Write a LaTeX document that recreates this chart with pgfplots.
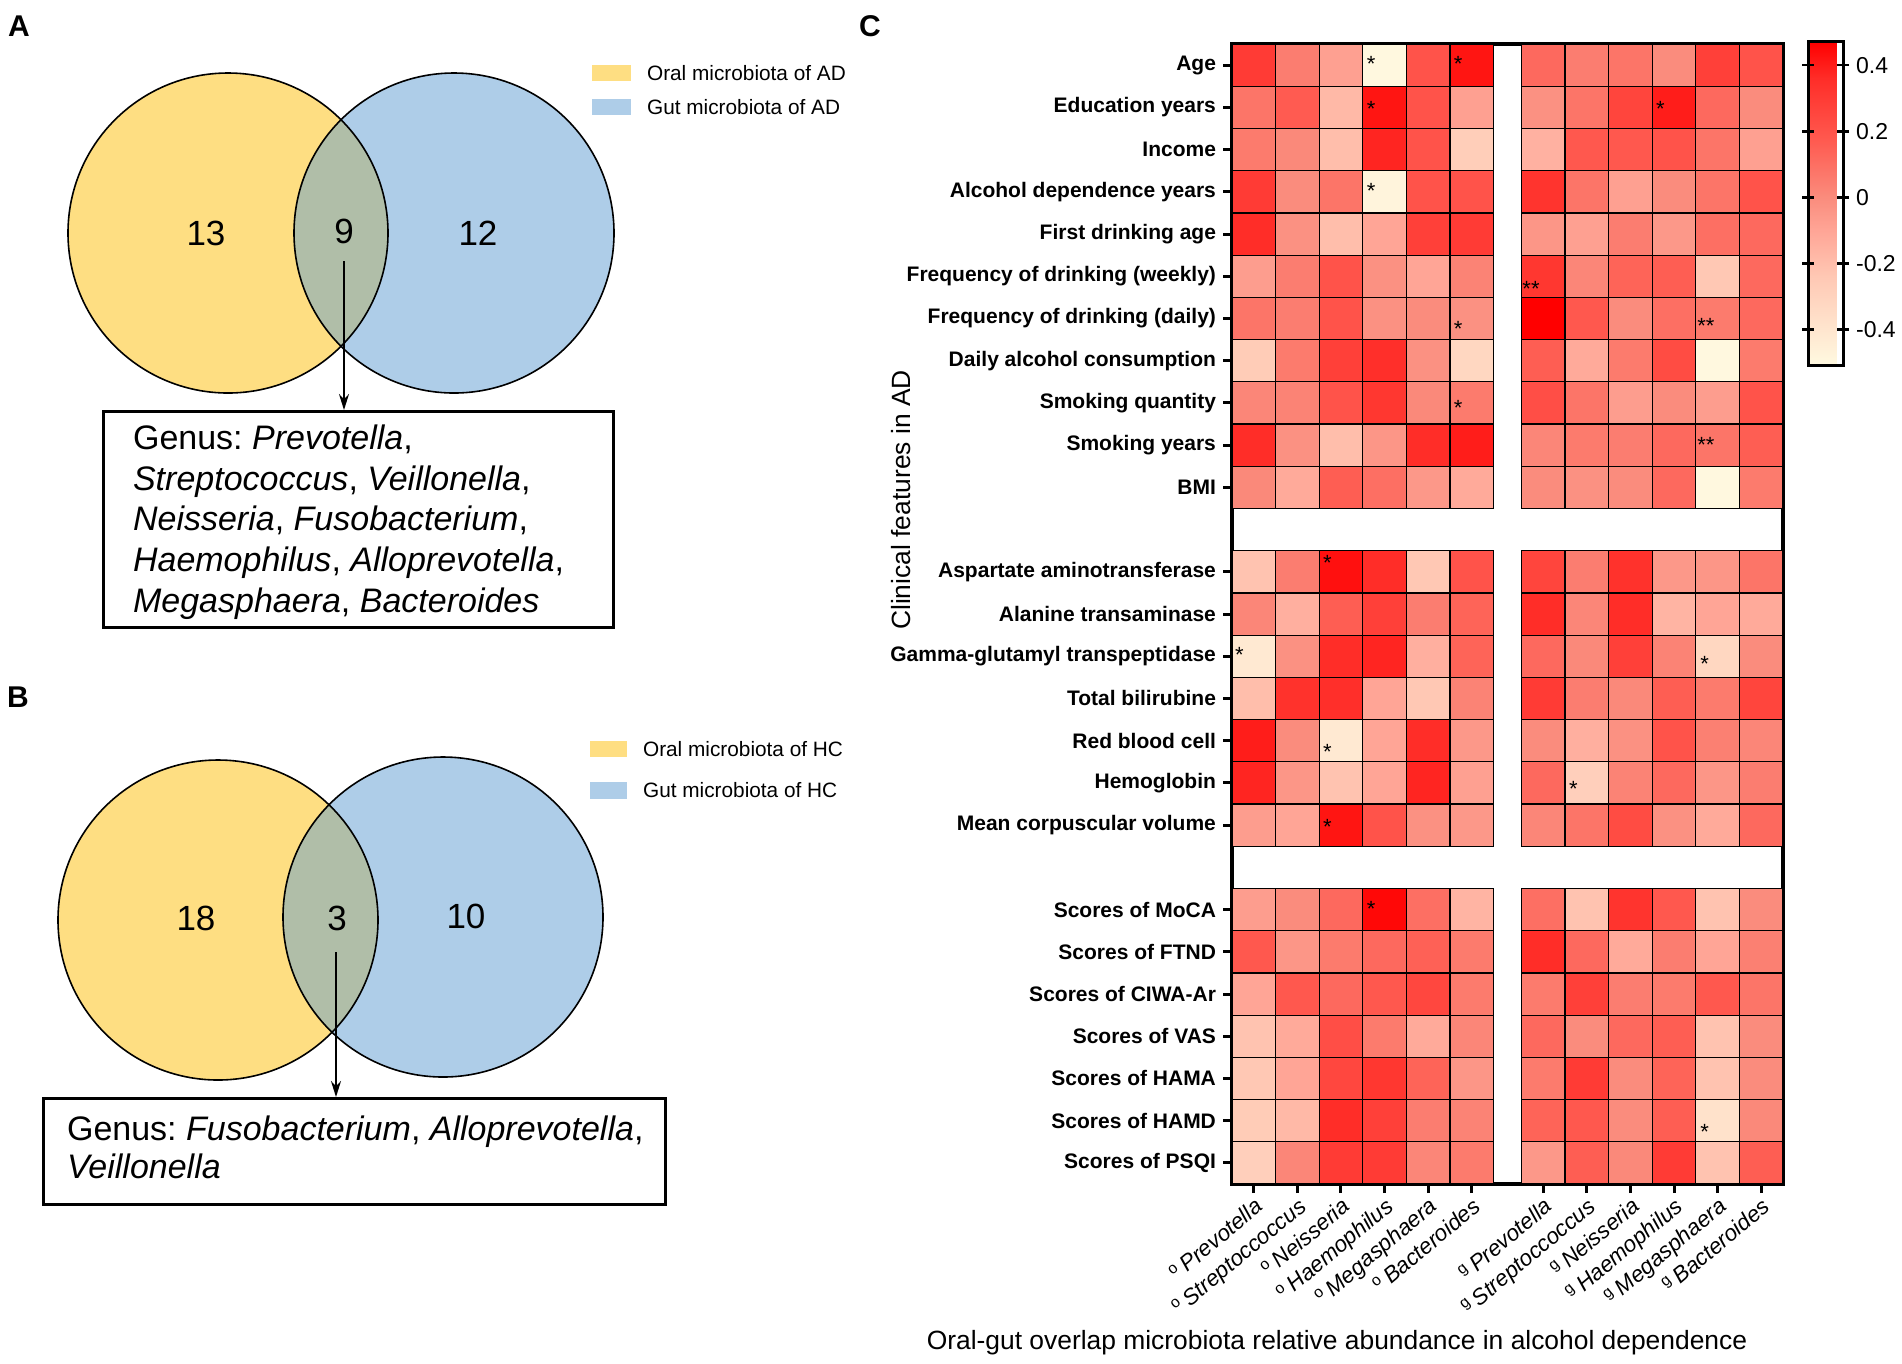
\documentclass[border=0pt]{standalone}
\usepackage{pgfplots}
\pgfplotsset{compat=1.18}
\usepackage{fontspec}
\setmainfont{Liberation Sans}
\usetikzlibrary{arrows.meta}
\frenchspacing

\definecolor{vyellow}{RGB}{254,222,130}
\definecolor{vblue}{RGB}{174,205,232}
\definecolor{vover}{RGB}{176,190,168}
\newcommand{\so}{\textsuperscript{\upshape o}\,}
\newcommand{\sg}{\textsuperscript{\upshape g}\,}

\begin{document}
\begin{tikzpicture}[x=0.5pt,y=-0.5pt]
\path[use as bounding box] (0,0) rectangle (1902,1364);

% ---------------- Venn diagrams (A and B) and free text ----------------
\begin{axis}[at={(0pt,0pt)}, anchor=north west, x=0.5pt, y=0.5pt, y dir=reverse,
  xmin=0, xmax=860, ymin=0, ymax=1364, hide axis, clip=false]
  % A
  \fill[vyellow] (axis cs:228,233) circle[radius=80pt];
  \fill[vblue] (axis cs:454,233) circle[radius=80pt];
  \begin{scope}
    \clip (axis cs:228,233) circle[radius=80pt];
    \fill[vover] (axis cs:454,233) circle[radius=80pt];
  \end{scope}
  \draw[line width=0.8pt] (axis cs:228,233) circle[radius=80pt];
  \draw[line width=0.8pt] (axis cs:454,233) circle[radius=80pt];
  \node[font=\fontsize{17.5}{20}\selectfont] at (axis cs:206,233) {13};
  \node[font=\fontsize{17.5}{20}\selectfont] at (axis cs:344,231) {9};
  \node[font=\fontsize{17.5}{20}\selectfont] at (axis cs:478,233) {12};
  \draw[line width=1pt,-{Stealth[length=8pt,width=5pt]}] (axis cs:344,261) -- (axis cs:344,410);
  \draw[line width=1.5pt] (axis cs:103,411) rectangle (axis cs:613,627);
  \node[anchor=base west,font=\fontsize{17}{20}\selectfont] at (axis cs:126,449) {Genus: \textit{Prevotella},};
  \node[anchor=base west,font=\fontsize{17}{20}\selectfont] at (axis cs:126,490) {\textit{Streptococcus}, \textit{Veillonella},};
  \node[anchor=base west,font=\fontsize{17}{20}\selectfont] at (axis cs:126,530) {\textit{Neisseria}, \textit{Fusobacterium},};
  \node[anchor=base west,font=\fontsize{17}{20}\selectfont] at (axis cs:126,571) {\textit{Haemophilus}, \textit{Alloprevotella},};
  \node[anchor=base west,font=\fontsize{17}{20}\selectfont] at (axis cs:126,612) {\textit{Megasphaera}, \textit{Bacteroides}};
  \fill[vyellow] (axis cs:592,65) rectangle (axis cs:631,81);
  \fill[vblue] (axis cs:592,99) rectangle (axis cs:631,115);
  \node[anchor=west,font=\fontsize{10.4}{12}\selectfont] at (axis cs:640,73) {Oral microbiota of AD};
  \node[anchor=west,font=\fontsize{10.4}{12}\selectfont] at (axis cs:640,107) {Gut microbiota of AD};
  % B
  \fill[vyellow] (axis cs:218,920) circle[radius=80pt];
  \fill[vblue] (axis cs:443,917) circle[radius=80pt];
  \begin{scope}
    \clip (axis cs:218,920) circle[radius=80pt];
    \fill[vover] (axis cs:443,917) circle[radius=80pt];
  \end{scope}
  \draw[line width=0.8pt] (axis cs:218,920) circle[radius=80pt];
  \draw[line width=0.8pt] (axis cs:443,917) circle[radius=80pt];
  \node[font=\fontsize{17.5}{20}\selectfont] at (axis cs:196,918) {18};
  \node[font=\fontsize{17.5}{20}\selectfont] at (axis cs:337,918) {3};
  \node[font=\fontsize{17.5}{20}\selectfont] at (axis cs:466,916) {10};
  \draw[line width=1pt,-{Stealth[length=8pt,width=5pt]}] (axis cs:336,952) -- (axis cs:336,1097);
  \draw[line width=1.5pt] (axis cs:43,1098) rectangle (axis cs:665,1204);
  \node[anchor=base west,font=\fontsize{17}{20}\selectfont] at (axis cs:60,1140) {Genus: \textit{Fusobacterium}, \textit{Alloprevotella},};
  \node[anchor=base west,font=\fontsize{17}{20}\selectfont] at (axis cs:60,1178) {\textit{Veillonella}};
  \fill[vyellow] (axis cs:590,741) rectangle (axis cs:627,757);
  \fill[vblue] (axis cs:590,782) rectangle (axis cs:627,799);
  \node[anchor=west,font=\fontsize{10.4}{12}\selectfont] at (axis cs:636,749) {Oral microbiota of HC};
  \node[anchor=west,font=\fontsize{10.4}{12}\selectfont] at (axis cs:636,790) {Gut microbiota of HC};
  % panel letters and heatmap titles
  \node[font=\bfseries\fontsize{15}{17}\selectfont] at (axis cs:19,26) {A};
  \node[font=\bfseries\fontsize{15}{17}\selectfont] at (axis cs:18,697) {B};
  \node[font=\bfseries\fontsize{15}{17}\selectfont] at (axis cs:870,26) {C};
  \node[rotate=90,font=\fontsize{13.2}{15}\selectfont] at (axis cs:901,500) {Clinical features in AD};
  \node[font=\fontsize{13.2}{15}\selectfont] at (axis cs:1337,1343) {Oral-gut overlap microbiota relative abundance in alcohol dependence};
\end{axis}

% ---------------- Heatmap (C) ----------------
\begin{axis}[at={(616pt,-22pt)}, anchor=north west,
  scale only axis, width=275.5pt, height=570pt,
  xmin=-0.5, xmax=12.14, ymin=-0.5, ymax=26.5, y dir=reverse,
  axis on top, clip=false,
  axis line style={line width=1.7pt},
  tick align=outside, xtick pos=bottom, ytick pos=left,
  major tick length=4.5pt,
  tick style={line width=1.5pt, black},
  xtick={0,1,2,3,4,5,6.64,7.64,8.64,9.64,10.64,11.64},
  xticklabels={\so Prevotella,\so Streptoccoccus,\so Neisseria,\so Haemophilus,\so Megasphaera,\so Bacteroides,
    \sg Prevotella,\sg Streptoccoccus,\sg Neisseria,\sg Haemophilus,\sg Megasphaera,\sg Bacteroides},
  xticklabel style={font=\itshape\fontsize{11.2}{12}\selectfont, rotate=40, anchor=north east, inner sep=1pt},
  ytick={0,1,2,3,4,5,6,7,8,9,10,12,13,14,15,16,17,18,20,21,22,23,24,25,26},
  yticklabels={Age,Education years,Income,Alcohol dependence years,First drinking age,
    Frequency of drinking (weekly),Frequency of drinking (daily),Daily alcohol consumption,
    Smoking quantity,Smoking years,BMI,Aspartate aminotransferase,Alanine transaminase,
    Gamma-glutamyl transpeptidase,Total bilirubine,Red blood cell,Hemoglobin,
    Mean corpuscular volume,Scores of MoCA,Scores of FTND,Scores of CIWA-Ar,
    Scores of VAS,Scores of HAMA,Scores of HAMD,Scores of PSQI},
  yticklabel style={font=\bfseries\fontsize{10.5}{12}\selectfont},
  colormap={hm}{rgb255(0pt)=(255,250,225); rgb255(276pt)=(255,200,180); rgb255(418pt)=(255,165,150);
    rgb255(520pt)=(250,140,125); rgb255(704pt)=(255,88,78); rgb255(888pt)=(255,45,40); rgb255(1000pt)=(255,0,0)},
  point meta min=-0.51, point meta max=0.47,
  colorbar,
  colorbar style={at={(parent axis.north east)}, anchor=north west, xshift=4pt, yshift=1pt,
    scale only axis, width=17.5pt, height=162pt,
    ytick={-0.4,-0.2,0,0.2,0.4}, yticklabels={-0.4,-0.2,0,0.2,0.4},
    yticklabel style={font=\fontsize{11.5}{13}\selectfont},
    axis line style={line width=1.5pt}, tick align=center, major tick length=6pt,
    tick style={line width=1.3pt, black}},
]
\addplot[scatter, only marks, mark=square*, mark size=10.898pt, point meta=explicit,
  scatter/use mapped color={draw=black, fill=mapped color},
  mark options={yscale=0.96858, line width=0.6pt}] coordinates {
(0,0)[0.30] (1,0)[0.05] (2,0)[-0.08] (3,0)[-0.50] (4,0)[0.20] (5,0)[0.42]
(6.64,0)[0.12] (7.64,0)[0.05] (8.64,0)[0.08] (9.64,0)[0.00] (10.64,0)[0.28] (11.64,0)[0.20]
(0,1)[0.08] (1,1)[0.17] (2,1)[-0.18] (3,1)[0.42] (4,1)[0.20] (5,1)[-0.08]
(6.64,1)[-0.02] (7.64,1)[0.08] (8.64,1)[0.26] (9.64,1)[0.40] (10.64,1)[0.12] (11.64,1)[0.00]
(0,2)[0.06] (1,2)[0.01] (2,2)[-0.20] (3,2)[0.38] (4,2)[0.20] (5,2)[-0.27]
(6.64,2)[-0.15] (7.64,2)[0.18] (8.64,2)[0.18] (9.64,2)[0.20] (10.64,2)[0.08] (11.64,2)[-0.08]
(0,3)[0.30] (1,3)[0.00] (2,3)[0.08] (3,3)[-0.48] (4,3)[0.20] (5,3)[0.20]
(6.64,3)[0.33] (7.64,3)[0.08] (8.64,3)[-0.08] (9.64,3)[0.00] (10.64,3)[0.08] (11.64,3)[0.20]
(0,4)[0.36] (1,4)[-0.02] (2,4)[-0.20] (3,4)[-0.10] (4,4)[0.28] (5,4)[0.30]
(6.64,4)[-0.04] (7.64,4)[-0.08] (8.64,4)[0.05] (9.64,4)[-0.05] (10.64,4)[0.10] (11.64,4)[0.12]
(0,5)[-0.07] (1,5)[0.05] (2,5)[0.20] (3,5)[-0.02] (4,5)[-0.10] (5,5)[0.03]
(6.64,5)[0.32] (7.64,5)[0.02] (8.64,5)[0.14] (9.64,5)[0.16] (10.64,5)[-0.24] (11.64,5)[0.12]
(0,6)[0.08] (1,6)[0.05] (2,6)[0.20] (3,6)[-0.02] (4,6)[0.00] (5,6)[-0.02]
(6.64,6)[0.47] (7.64,6)[0.18] (8.64,6)[0.00] (9.64,6)[0.10] (10.64,6)[0.06] (11.64,6)[0.12]
(0,7)[-0.26] (1,7)[0.06] (2,7)[0.28] (3,7)[0.35] (4,7)[-0.02] (5,7)[-0.32]
(6.64,7)[0.16] (7.64,7)[-0.12] (8.64,7)[0.06] (9.64,7)[0.23] (10.64,7)[-0.50] (11.64,7)[0.06]
(0,8)[0.02] (1,8)[0.03] (2,8)[0.20] (3,8)[0.32] (4,8)[0.01] (5,8)[0.06]
(6.64,8)[0.22] (7.64,8)[0.08] (8.64,8)[-0.07] (9.64,8)[0.00] (10.64,8)[-0.07] (11.64,8)[0.20]
(0,9)[0.36] (1,9)[-0.02] (2,9)[-0.20] (3,9)[-0.04] (4,9)[0.36] (5,9)[0.40]
(6.64,9)[0.02] (7.64,9)[0.06] (8.64,9)[0.05] (9.64,9)[0.12] (10.64,9)[0.08] (11.64,9)[0.16]
(0,10)[0.01] (1,10)[-0.12] (2,10)[0.16] (3,10)[0.10] (4,10)[-0.05] (5,10)[-0.12]
(6.64,10)[0.00] (7.64,10)[-0.02] (8.64,10)[0.00] (9.64,10)[0.12] (10.64,10)[-0.50] (11.64,10)[0.06]
(0,12)[-0.22] (1,12)[0.05] (2,12)[0.43] (3,12)[0.36] (4,12)[-0.24] (5,12)[0.20]
(6.64,12)[0.26] (7.64,12)[0.05] (8.64,12)[0.34] (9.64,12)[-0.05] (10.64,12)[-0.04] (11.64,12)[0.08]
(0,13)[0.02] (1,13)[-0.14] (2,13)[0.16] (3,13)[0.28] (4,13)[0.05] (5,13)[0.14]
(6.64,13)[0.36] (7.64,13)[0.02] (8.64,13)[0.36] (9.64,13)[-0.16] (10.64,13)[-0.10] (11.64,13)[-0.12]
(0,14)[-0.42] (1,14)[-0.02] (2,14)[0.36] (3,14)[0.38] (4,14)[-0.14] (5,14)[0.14]
(6.64,14)[0.12] (7.64,14)[0.01] (8.64,14)[0.28] (9.64,14)[0.03] (10.64,14)[-0.32] (11.64,14)[0.00]
(0,15)[-0.20] (1,15)[0.34] (2,15)[0.35] (3,15)[-0.10] (4,15)[-0.24] (5,15)[0.03]
(6.64,15)[0.30] (7.64,15)[0.05] (8.64,15)[0.01] (9.64,15)[0.16] (10.64,15)[0.06] (11.64,15)[0.26]
(0,16)[0.40] (1,16)[0.00] (2,16)[-0.42] (3,16)[-0.10] (4,16)[0.36] (5,16)[-0.05]
(6.64,16)[0.00] (7.64,16)[-0.14] (8.64,16)[-0.02] (9.64,16)[0.20] (10.64,16)[0.04] (11.64,16)[0.02]
(0,17)[0.38] (1,17)[-0.04] (2,17)[-0.22] (3,17)[-0.10] (4,17)[0.38] (5,17)[-0.08]
(6.64,17)[0.12] (7.64,17)[-0.28] (8.64,17)[0.03] (9.64,17)[0.12] (10.64,17)[-0.04] (11.64,17)[0.05]
(0,18)[-0.07] (1,18)[-0.10] (2,18)[0.42] (3,18)[0.20] (4,18)[-0.02] (5,18)[-0.05]
(6.64,18)[0.02] (7.64,18)[0.08] (8.64,18)[0.23] (9.64,18)[-0.02] (10.64,18)[-0.12] (11.64,18)[0.12]
(0,20)[-0.07] (1,20)[0.00] (2,20)[0.12] (3,20)[0.45] (4,20)[0.10] (5,20)[-0.16]
(6.64,20)[0.10] (7.64,20)[-0.22] (8.64,20)[0.33] (9.64,20)[0.18] (10.64,20)[-0.22] (11.64,20)[0.00]
(0,21)[0.18] (1,21)[-0.04] (2,21)[0.06] (3,21)[0.12] (4,21)[0.15] (5,21)[0.06]
(6.64,21)[0.36] (7.64,21)[0.12] (8.64,21)[-0.12] (9.64,21)[0.05] (10.64,21)[-0.10] (11.64,21)[0.04]
(0,22)[-0.10] (1,22)[0.18] (2,22)[0.12] (3,22)[0.18] (4,22)[0.25] (5,22)[0.06]
(6.64,22)[0.06] (7.64,22)[0.28] (8.64,22)[0.05] (9.64,22)[0.06] (10.64,22)[0.18] (11.64,22)[0.08]
(0,23)[-0.22] (1,23)[-0.12] (2,23)[0.22] (3,23)[0.06] (4,23)[-0.12] (5,23)[0.02]
(6.64,23)[0.12] (7.64,23)[0.00] (8.64,23)[0.12] (9.64,23)[0.16] (10.64,23)[-0.22] (11.64,23)[0.00]
(0,24)[-0.24] (1,24)[-0.10] (2,24)[0.25] (3,24)[0.32] (4,24)[0.14] (5,24)[-0.04]
(6.64,24)[0.06] (7.64,24)[0.30] (8.64,24)[0.00] (9.64,24)[0.14] (10.64,24)[-0.22] (11.64,24)[0.00]
(0,25)[-0.26] (1,25)[-0.18] (2,25)[0.36] (3,25)[0.28] (4,25)[0.05] (5,25)[0.03]
(6.64,25)[0.14] (7.64,25)[0.18] (8.64,25)[0.00] (9.64,25)[0.16] (10.64,25)[-0.38] (11.64,25)[0.01]
(0,26)[-0.28] (1,26)[0.02] (2,26)[0.30] (3,26)[0.30] (4,26)[0.02] (5,26)[0.06]
(6.64,26)[-0.05] (7.64,26)[0.16] (8.64,26)[0.01] (9.64,26)[0.30] (10.64,26)[-0.22] (11.64,26)[0.16]
};
% significance marks
\addplot[only marks, mark=none, point meta=explicit symbolic, nodes near coords,
  nodes near coords align={anchor=center},
  every node near coord/.append style={font=\fontsize{11}{12}\selectfont, inner sep=0pt, yshift=-2.5pt, text=black}]
  coordinates {
(2.69,-0.14)[*] (4.69,-0.14)[*] (2.69,0.92)[*] (9.33,0.92)[*] (2.69,2.86)[*]
(6.36,5.18)[**] (4.69,6.14)[*] (10.37,6.06)[**] (4.69,8.0)[*] (10.37,8.88)[**]
(1.69,11.67)[*] (-0.33,13.85)[*] (10.34,14.07)[*] (1.69,16.15)[*] (7.33,17.03)[*]
(1.69,17.92)[*] (2.69,19.87)[*] (10.34,25.14)[*]
};
\end{axis}
\end{tikzpicture}
\end{document}
